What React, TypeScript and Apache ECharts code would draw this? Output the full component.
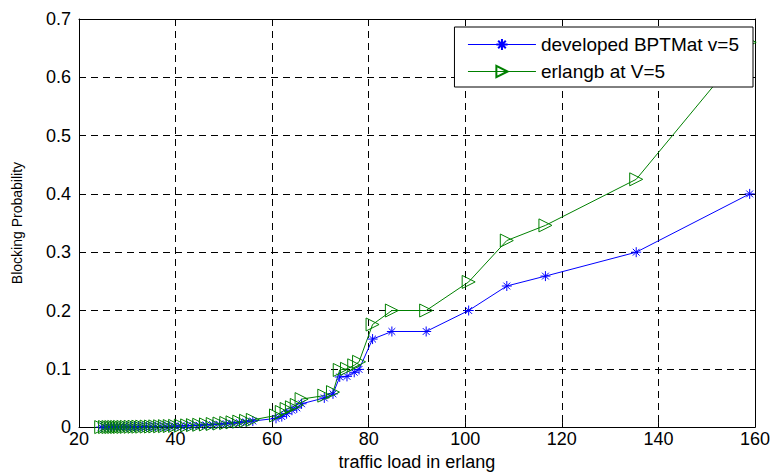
import React, { useEffect, useRef } from "react";
import * as echarts from "echarts";

// Offered traffic (erlang) shared by both curves
const trafficLoad = [
  24.6, 25.4, 26.1, 26.7, 27.3, 27.9, 28.5, 29.2, 29.9, 30.7, 31.5, 32.3, 33.1, 34.0, 34.9, 35.8,
  36.8, 37.8, 38.8, 39.9, 41.1, 42.4, 43.6, 44.9, 46.3, 47.7, 49.1, 50.5, 51.8, 53.2, 54.6, 56.0,
  60.8, 62.0, 63.0, 64.1, 65.1, 66.1, 70.8, 72.6, 74.0, 75.5, 77.0, 78.0, 80.8, 84.8, 91.9,
  100.7, 108.6, 116.6, 135.4, 158.9,
];

// Blocking probability from the developed BPTMat model (v = 5)
const developedBPTMat = [
  0.0, 0.0, 0.0001, 0.0001, 0.0001, 0.0002, 0.0002, 0.0003, 0.0003, 0.0004, 0.0005, 0.0005, 0.0006,
  0.0007, 0.0008, 0.0009, 0.0011, 0.0012, 0.0014, 0.0016, 0.0019, 0.0022, 0.0026, 0.0031, 0.0036,
  0.0042, 0.0049, 0.0057, 0.0066, 0.0077, 0.0089, 0.0104,
  0.015, 0.018, 0.023, 0.029, 0.033, 0.04, 0.05, 0.057, 0.086, 0.087, 0.094, 0.099, 0.151, 0.164,
  0.164, 0.2, 0.242, 0.259, 0.3, 0.4,
];

// Erlang B blocking probability (V = 5)
const erlangB = [
  0.0, 0.0001, 0.0001, 0.0001, 0.0002, 0.0002, 0.0003, 0.0003, 0.0004, 0.0005, 0.0006, 0.0007,
  0.0008, 0.0009, 0.001, 0.0012, 0.0014, 0.0016, 0.0018, 0.0021, 0.0025, 0.0029, 0.0034, 0.004,
  0.0046, 0.0053, 0.0061, 0.0071, 0.0082, 0.0094, 0.0108, 0.0124,
  0.02, 0.026, 0.031, 0.034, 0.038, 0.048, 0.054, 0.06, 0.098, 0.1, 0.106, 0.112, 0.176, 0.2, 0.2,
  0.249, 0.32, 0.346, 0.425, 0.66,
];

const seriesNames = ["developed BPTMat v=5", "erlangb at V=5"];
const xTicks = { min: 20, max: 160, interval: 20 };
const yTicks = { min: 0, max: 0.7, interval: 0.1 };

const FONT = "'Liberation Sans', Arial, sans-serif";
const BLUE = "#0000ff";
const GREEN = "#008000";
const ASTERISK = "path://M5,0L5,10M0,5L10,5M1.6,1.6L8.4,8.4M1.6,8.4L8.4,1.6";

const frameAxis = {
  axisLine: { show: true, onZero: false, lineStyle: { color: "#000", width: 1 } },
  axisTick: { show: true, inside: true, length: 5, lineStyle: { color: "#000", width: 1 } },
};

export default function App() {
  const ref = useRef<HTMLDivElement>(null);

  useEffect(() => {
    document.body.style.margin = "0";
    const chart = echarts.init(ref.current!, null, { renderer: "svg" });
    chart.setOption({
      animation: false,
      backgroundColor: "#fff",
      textStyle: { fontFamily: FONT },
      grid: { left: 79, right: 17, top: 19, bottom: 44 },
      legend: {
        data: seriesNames,
        orient: "vertical",
        right: 20,
        top: 27,
        itemWidth: 68,
        itemHeight: 14,
        itemGap: 8,
        padding: [8, 14, 6, 13],
        borderColor: "#000",
        borderWidth: 1,
        borderRadius: 0,
        backgroundColor: "#fff",
        lineStyle: { width: 1 },
        textStyle: { fontSize: 19, color: "#000", fontFamily: FONT },
      },
      xAxis: [
        {
          type: "value",
          position: "bottom",
          ...xTicks,
          name: "traffic load in erlang",
          nameLocation: "middle",
          nameGap: 25,
          nameTextStyle: { fontSize: 18, color: "#000", fontFamily: FONT },
          ...frameAxis,
          axisLabel: { fontSize: 18, color: "#000", margin: 3, fontFamily: FONT },
          splitLine: { show: true, lineStyle: { color: "#000", width: 1, type: [7, 5] } },
        },
        {
          type: "value",
          position: "top",
          ...xTicks,
          ...frameAxis,
          axisLabel: { show: false },
          splitLine: { show: false },
        },
      ],
      yAxis: [
        {
          type: "value",
          position: "left",
          ...yTicks,
          name: "Blocking Probability",
          nameLocation: "middle",
          nameGap: 55,
          nameTextStyle: { fontSize: 14, color: "#000", fontFamily: FONT },
          ...frameAxis,
          axisLabel: { fontSize: 18, color: "#000", margin: 8, fontFamily: FONT },
          splitLine: { show: true, lineStyle: { color: "#000", width: 1, type: [7, 5] } },
        },
        {
          type: "value",
          position: "right",
          ...yTicks,
          ...frameAxis,
          axisLabel: { show: false },
          splitLine: { show: false },
        },
      ],
      series: [
        {
          name: seriesNames[0],
          type: "line",
          data: trafficLoad.map((x, i) => [x, developedBPTMat[i]]),
          symbol: ASTERISK,
          symbolSize: 10,
          lineStyle: { color: BLUE, width: 1 },
          itemStyle: { color: BLUE, borderColor: BLUE, borderWidth: 1 },
          emphasis: { disabled: true },
        },
        {
          name: seriesNames[1],
          type: "line",
          data: trafficLoad.map((x, i) => [x, erlangB[i]]),
          symbol: "triangle",
          symbolRotate: -90,
          symbolSize: 13,
          lineStyle: { color: GREEN, width: 1 },
          itemStyle: { color: "rgba(0,0,0,0)", borderColor: GREEN, borderWidth: 1 },
          emphasis: { disabled: true },
        },
      ],
    });
    return () => chart.dispose();
  }, []);

  return <div ref={ref} style={{ width: 773, height: 476 }} />;
}
